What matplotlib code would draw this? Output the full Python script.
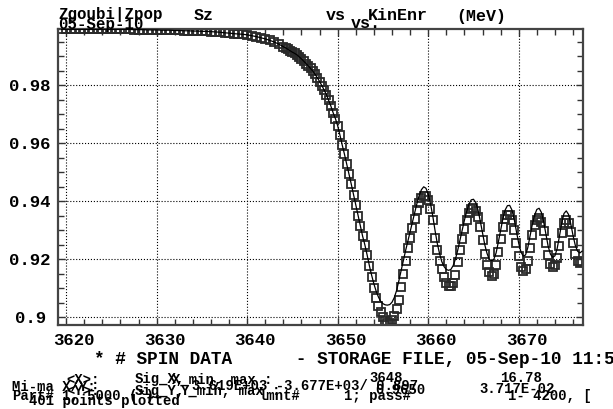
import matplotlib
matplotlib.use("Agg")
import matplotlib.pyplot as plt
from matplotlib.ticker import MultipleLocator, FuncFormatter
from matplotlib.transforms import ScaledTranslation

# kinetic energy (MeV): 0.5 step on the plateau, 0.25 step through the resonance
kin_enr = [
    3619.5, 3620.0, 3620.5, 3621.0, 3621.5, 3622.0, 3622.5, 3623.0, 3623.5, 3624.0,
    3624.5, 3625.0, 3625.5, 3626.0, 3626.5, 3627.0, 3627.5, 3628.0, 3628.5, 3629.0,
    3629.5, 3630.0, 3630.5, 3631.0, 3631.5, 3632.0, 3632.5, 3633.0, 3633.5, 3634.0,
    3634.5, 3635.0, 3635.5, 3636.0, 3636.5, 3637.0, 3637.5, 3638.0, 3638.5, 3639.0,
    3639.5, 3640.0, 3640.5, 3641.0, 3641.5, 3642.0, 3642.5, 3643.0, 3643.5,
    3644.0, 3644.25, 3644.5, 3644.75, 3645.0, 3645.25, 3645.5, 3645.75,
    3646.0, 3646.25, 3646.5, 3646.75, 3647.0, 3647.25, 3647.5, 3647.75,
    3648.0, 3648.25, 3648.5, 3648.75, 3649.0, 3649.25, 3649.5, 3649.75,
    3650.0, 3650.25, 3650.5, 3650.75, 3651.0, 3651.25, 3651.5, 3651.75,
    3652.0, 3652.25, 3652.5, 3652.75, 3653.0, 3653.25, 3653.5, 3653.75,
    3654.0, 3654.25, 3654.5, 3654.75, 3655.0, 3655.25, 3655.5, 3655.75,
    3656.0, 3656.25, 3656.5, 3656.75, 3657.0, 3657.25, 3657.5, 3657.75,
    3658.0, 3658.25, 3658.5, 3658.75, 3659.0, 3659.25, 3659.5, 3659.75,
    3660.0, 3660.25, 3660.5, 3660.75, 3661.0, 3661.25, 3661.5, 3661.75,
    3662.0, 3662.25, 3662.5, 3662.75, 3663.0, 3663.25, 3663.5, 3663.75,
    3664.0, 3664.25, 3664.5, 3664.75, 3665.0, 3665.25, 3665.5, 3665.75,
    3666.0, 3666.25, 3666.5, 3666.75, 3667.0, 3667.25, 3667.5, 3667.75,
    3668.0, 3668.25, 3668.5, 3668.75, 3669.0, 3669.25, 3669.5, 3669.75,
    3670.0, 3670.25, 3670.5, 3670.75, 3671.0, 3671.25, 3671.5, 3671.75,
    3672.0, 3672.25, 3672.5, 3672.75, 3673.0, 3673.25, 3673.5, 3673.75,
    3674.0, 3674.25, 3674.5, 3674.75, 3675.0, 3675.25, 3675.5, 3675.75,
    3676.0, 3676.25, 3676.5, 3676.75, 3677.0,
]

# Sz, tracked particles (squares)
sz_pts = [
    0.9993, 0.9993, 0.9993, 0.9993, 0.9993, 0.9993, 0.9993, 0.9993, 0.9993, 0.9993,
    0.9993, 0.9993, 0.9993, 0.9993, 0.9993, 0.9993, 0.9992, 0.9992, 0.9992, 0.9991,
    0.9991, 0.9991, 0.9990, 0.9990, 0.9990, 0.9989, 0.9989, 0.9988, 0.9988, 0.9987,
    0.9987, 0.9986, 0.9986, 0.9985, 0.9984, 0.9983, 0.9981, 0.9980, 0.9978, 0.9977,
    0.9976, 0.9974, 0.9971, 0.9968, 0.9964, 0.9960, 0.9955, 0.9949, 0.9942,
    0.9933, 0.9929, 0.9924, 0.9919, 0.9914, 0.9910, 0.9905, 0.9898,
    0.9891, 0.9883, 0.9875, 0.9867, 0.9858, 0.9849, 0.9838, 0.9826,
    0.9813, 0.9799, 0.9784, 0.9768, 0.9748, 0.9728, 0.9705, 0.9685,
    0.9660, 0.9628, 0.9594, 0.9562, 0.9528, 0.9494, 0.9459, 0.9423,
    0.9386, 0.9350, 0.9314, 0.9280, 0.9250, 0.9215, 0.9178, 0.9140,
    0.9102, 0.9068, 0.9040, 0.9017, 0.9000, 0.8988, 0.8980, 0.8980,
    0.8990, 0.9005, 0.9027, 0.9060, 0.9105, 0.9150, 0.9195, 0.9238,
    0.9275, 0.9308, 0.9340, 0.9370, 0.9395, 0.9413, 0.9420, 0.9417,
    0.9403, 0.9375, 0.9335, 0.9275, 0.9232, 0.9195, 0.9165, 0.9140,
    0.9120, 0.9108, 0.9107, 0.9118, 0.9145, 0.9190, 0.9232, 0.9270,
    0.9305, 0.9335, 0.9360, 0.9374, 0.9376, 0.9368, 0.9345, 0.9310,
    0.9265, 0.9220, 0.9182, 0.9155, 0.9143, 0.9150, 0.9180, 0.9225,
    0.9270, 0.9310, 0.9338, 0.9352, 0.9352, 0.9335, 0.9300, 0.9255,
    0.9210, 0.9175, 0.9161, 0.9168, 0.9195, 0.9240, 0.9285, 0.9318,
    0.9337, 0.9341, 0.9328, 0.9297, 0.9255, 0.9215, 0.9185, 0.9175,
    0.9180, 0.9205, 0.9245, 0.9290, 0.9325, 0.9336, 0.9325, 0.9293,
    0.9255, 0.9218, 0.9195, 0.9187, 0.9192,
]

# Sz, reference curve (solid line)
sz_line = [
    0.9993, 0.9993, 0.9993, 0.9993, 0.9993, 0.9993, 0.9993, 0.9993, 0.9993, 0.9993,
    0.9993, 0.9993, 0.9993, 0.9993, 0.9993, 0.9993, 0.9992, 0.9992, 0.9992, 0.9991,
    0.9991, 0.9991, 0.9990, 0.9990, 0.9990, 0.9989, 0.9989, 0.9988, 0.9988, 0.9987,
    0.9987, 0.9986, 0.9986, 0.9985, 0.9984, 0.9983, 0.9981, 0.9980, 0.9978, 0.9977,
    0.9976, 0.9974, 0.9971, 0.9968, 0.9964, 0.9960, 0.9955, 0.9949, 0.9942,
    0.9933, 0.9929, 0.9924, 0.9919, 0.9914, 0.9910, 0.9905, 0.9898,
    0.9891, 0.9883, 0.9875, 0.9867, 0.9858, 0.9849, 0.9838, 0.9826,
    0.9813, 0.9799, 0.9784, 0.9768, 0.9748, 0.9728, 0.9705, 0.9685,
    0.9660, 0.9628, 0.9594, 0.9562, 0.9528, 0.9494, 0.9459, 0.9423,
    0.9386, 0.9350, 0.9314, 0.9280, 0.9250, 0.9215, 0.9178, 0.9145,
    0.9115, 0.9090, 0.9070, 0.9055, 0.9047, 0.9043, 0.9042, 0.9044,
    0.9052, 0.9068, 0.9092, 0.9125, 0.9160, 0.9195, 0.9230, 0.9262,
    0.9295, 0.9328, 0.9360, 0.9392, 0.9420, 0.9440, 0.9450, 0.9445,
    0.9425, 0.9392, 0.9350, 0.9300, 0.9255, 0.9220, 0.9192, 0.9175,
    0.9165, 0.9162, 0.9165, 0.9178, 0.9200, 0.9230, 0.9265, 0.9300,
    0.9335, 0.9365, 0.9390, 0.9405, 0.9407, 0.9396, 0.9370, 0.9332,
    0.9290, 0.9250, 0.9220, 0.9200, 0.9195, 0.9200, 0.9222, 0.9260,
    0.9300, 0.9340, 0.9370, 0.9385, 0.9386, 0.9370, 0.9338, 0.9295,
    0.9255, 0.9225, 0.9211, 0.9215, 0.9240, 0.9280, 0.9320, 0.9352,
    0.9372, 0.9376, 0.9362, 0.9330, 0.9288, 0.9245, 0.9218, 0.9207,
    0.9212, 0.9238, 0.9280, 0.9325, 0.9358, 0.9367, 0.9355, 0.9322,
    0.9282, 0.9248, 0.9228, 0.9222, 0.9228,
]

W, H = 613, 409
mono = "Liberation Mono"

fig = plt.figure(figsize=(W / 100, H / 100), dpi=100)
ax = fig.add_axes([58 / W, 1 - 325 / H, 525 / W, 295.7 / H])

ax.plot(kin_enr, sz_pts, linestyle="none", marker="s", markersize=5.2,
        markerfacecolor="none", markeredgecolor="#2a2a2a", markeredgewidth=1.3, zorder=2)
ax.plot(kin_enr, sz_line, color="black", linewidth=0.9, zorder=3)

ax.set_xlim(3619.1, 3677.1)
ax.set_ylim(0.89735, 0.99931)

ax.xaxis.set_major_locator(MultipleLocator(10))
ax.xaxis.set_minor_locator(MultipleLocator(2))
ax.yaxis.set_major_locator(MultipleLocator(0.02))
ax.yaxis.set_minor_locator(MultipleLocator(0.005))
ax.xaxis.set_major_formatter(FuncFormatter(lambda v, p: "%d" % round(v)))
ax.yaxis.set_major_formatter(FuncFormatter(lambda v, p: ("%.2f" % v).rstrip("0")))

ax.tick_params(which="both", direction="in", top=True, right=True, color="#333333")
ax.tick_params(which="major", length=5, width=1.0, pad=6)
ax.tick_params(which="minor", length=4, width=1.0)
ax.tick_params(axis="y", which="major", pad=20)
for lbl in ax.get_xticklabels() + ax.get_yticklabels():
    lbl.set_fontfamily(mono)
    lbl.set_fontweight("bold")
    lbl.set_fontsize(12.5)
for lbl in ax.get_yticklabels():
    lbl.set_horizontalalignment("center")
for lbl in ax.get_xticklabels():
    lbl.set_transform(lbl.get_transform() + ScaledTranslation(8 / 100, 0, fig.dpi_scale_trans))

ax.grid(True, which="major", linestyle=":", color="black", linewidth=0.8)
for sp in ax.spines.values():
    sp.set_linewidth(1.6)
    sp.set_color("#444444")


def put(x, y, s, size, weight="bold"):
    fig.text(x / W, 1 - y / H, s, fontsize=size, fontfamily=mono,
             fontweight=weight, va="center", ha="left")


# header
put(58, 14, "Zgoubi|Zpop", 11.3)
put(58, 24, "05-Sep-10", 11.3)
put(194, 16, "Sz", 12)
put(326, 16, "vs", 12)
put(351, 23, "vs.", 12)
put(368, 15, "KinEnr", 12)
put(456, 16, "(MeV)", 12)

# footer
put(94, 359, "* # SPIN DATA      - STORAGE FILE, 05-Sep-10 11:51", 12.8)
put(66, 380, "<X>:", 10)
put(135, 379, "Sig_X,", 10)
put(172, 380, "X_min, max :", 10)
put(369, 378, "3648", 10)
put(500, 378, "16.78", 10)
put(12, 387, "Mi-ma X/Y:", 10)
put(192, 386, "3.619E+03 -3.677E+03/ 0.897", 10)
put(66, 391, "<Y>:", 10)
put(135, 391, "Sig_Y,", 10)
put(180, 391, "Y_min, max :", 10)
put(375, 390, "0.9650", 10)
put(479, 389, "3.717E-02", 10)
put(12, 396, "Part#", 10)
put(62, 396, "1, 5000 (*)", 10)
put(258, 396, "lmnt#", 10)
put(344, 396, "1; pass#", 10)
put(508, 396, "1- 4200, [", 10)
put(29, 401, "401 points plotted", 10)

fig.savefig("out.png", dpi=100)
